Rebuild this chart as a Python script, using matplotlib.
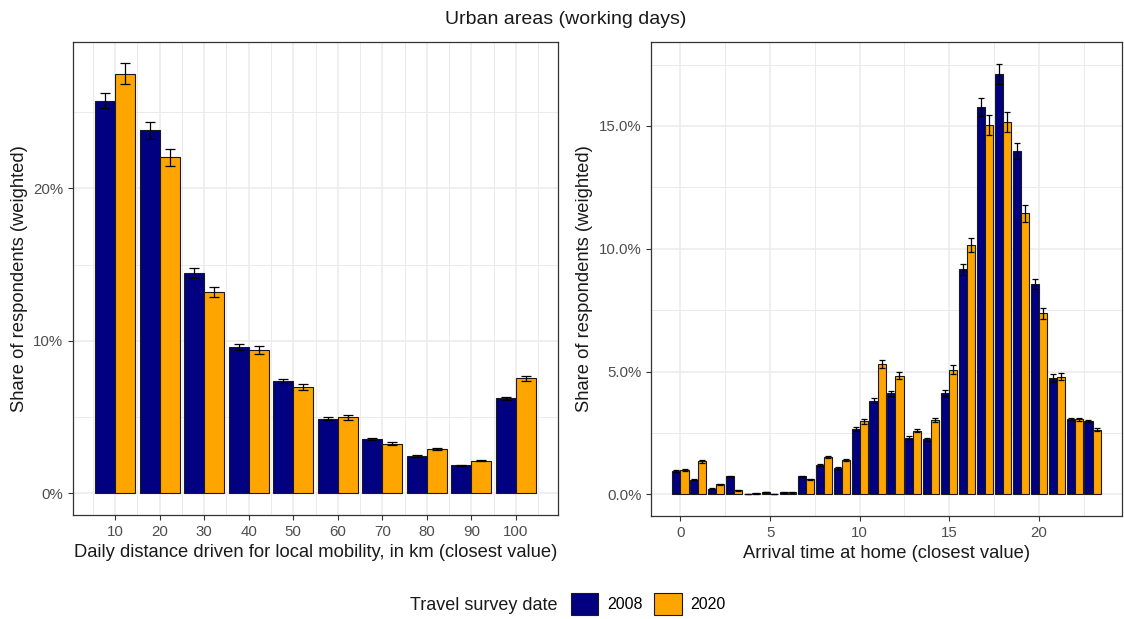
import numpy as np
import matplotlib.pyplot as plt
from matplotlib.patches import Patch
from matplotlib.ticker import FixedLocator

plt.rcParams['font.family'] = ['Liberation Sans', 'DejaVu Sans']

# Left panel: daily distance (km)
distance = [10, 20, 30, 40, 50, 60, 70, 80, 90, 100]
dist_2008 = [25.76, 23.80, 14.44, 9.62, 7.37, 4.90, 3.58, 2.47, 1.85, 6.23]
dist_2020 = [27.53, 22.05, 13.20, 9.40, 6.98, 4.99, 3.27, 2.91, 2.16, 7.55]
dist_err_2008 = [0.50, 0.55, 0.33, 0.20, 0.15, 0.10, 0.08, 0.05, 0.05, 0.12]
dist_err_2020 = [0.67, 0.55, 0.33, 0.25, 0.20, 0.15, 0.08, 0.06, 0.05, 0.15]

# Right panel: arrival time at home (hour)
hours = list(range(24))
arr_2008 = [0.95, 0.60, 0.23, 0.73, 0.02, 0.09, 0.08, 0.73, 1.18, 1.08, 2.67, 3.82,
            4.12, 2.30, 2.24, 4.13, 9.17, 15.77, 17.13, 13.98, 8.56, 4.74, 3.08, 2.97]
arr_2020 = [0.99, 1.34, 0.41, 0.16, 0.04, 0.01, 0.08, 0.61, 1.52, 1.41, 2.98, 5.31,
            4.84, 2.60, 3.04, 5.08, 10.15, 15.04, 15.16, 11.44, 7.37, 4.80, 3.05, 2.64]
arr_err_2008 = [0.04, 0.03, 0.02, 0.03, 0.01, 0.01, 0.01, 0.03, 0.04, 0.04, 0.08, 0.10,
                0.11, 0.06, 0.06, 0.14, 0.22, 0.37, 0.41, 0.32, 0.21, 0.16, 0.05, 0.04]
arr_err_2020 = [0.04, 0.05, 0.03, 0.02, 0.01, 0.01, 0.01, 0.03, 0.05, 0.05, 0.10, 0.15,
                0.15, 0.07, 0.08, 0.18, 0.30, 0.42, 0.41, 0.33, 0.22, 0.16, 0.07, 0.05]

years = ['2008', '2020']
colors = ['#000080', '#FFA500']
TEXT = '#1A1A1A'
TICK = '#4D4D4D'
GRID = '#EBEBEB'


def style_axes(ax, xmaj, xmin, ymaj, ymin, ylabels):
    ax.set_axisbelow(True)
    ax.xaxis.set_major_locator(FixedLocator(xmaj))
    ax.xaxis.set_minor_locator(FixedLocator(xmin))
    ax.yaxis.set_major_locator(FixedLocator(ymaj))
    ax.yaxis.set_minor_locator(FixedLocator(ymin))
    ax.set_yticklabels(ylabels)
    ax.grid(which='major', color=GRID, linewidth=1.1)
    ax.grid(which='minor', color=GRID, linewidth=0.7)
    ax.tick_params(which='major', length=3.5, width=0.8, color='#333333',
                   labelcolor=TICK, labelsize=10.8, pad=3.5)
    ax.tick_params(which='minor', length=0)
    for s in ax.spines.values():
        s.set_color('#333333')
        s.set_linewidth(0.9)


def draw_pairs(ax, x, v08, v20, e08, e20, width, capsize):
    x = np.array(x, dtype=float)
    for i, (vals, errs) in enumerate([(v08, e08), (v20, e20)]):
        pos = x + (i - 0.5) * width
        ax.bar(pos, vals, width=width, color=colors[i], edgecolor='#1A1A1A', linewidth=0.8)
        ax.errorbar(pos, vals, yerr=errs, fmt='none', ecolor='black',
                    elinewidth=0.9, capsize=capsize, capthick=0.9)


fig = plt.figure(figsize=(11.24, 6.19), dpi=100)
W, H = 1124, 619

ax1 = fig.add_axes([73 / W, (H - 515) / H, (558 - 73) / W, (515 - 42) / H])
draw_pairs(ax1, distance, dist_2008, dist_2020, dist_err_2008, dist_err_2020, 4.5, 3.5)
ax1.set_xlim(0.55, 109.45)
ax1.set_ylim(-1.41, 29.6)
style_axes(ax1, distance, [5 + 10 * k for k in range(11)], [0, 10, 20], [5, 15, 25],
           ['0%', '10%', '20%'])
ax1.set_xlabel('Daily distance driven for local mobility, in km (closest value)',
               fontsize=13.2, color=TEXT, labelpad=4)
ax1.set_ylabel('Share of respondents (weighted)', fontsize=13.2, color=TEXT, labelpad=4)

ax2 = fig.add_axes([651 / W, (H - 516) / H, (1122 - 651) / W, (516 - 42) / H])
draw_pairs(ax2, hours, arr_2008, arr_2020, arr_err_2008, arr_err_2020, 0.45, 2.5)
ax2.set_xlim(-1.645, 24.645)
ax2.set_ylim(-0.88, 18.42)
style_axes(ax2, [0, 5, 10, 15, 20], [2.5, 7.5, 12.5, 17.5, 22.5], [0, 5, 10, 15],
           [2.5, 7.5, 12.5, 17.5], ['0.0%', '5.0%', '10.0%', '15.0%'])
ax2.set_xlabel('Arrival time at home (closest value)', fontsize=13.2, color=TEXT, labelpad=4)
ax2.set_ylabel('Share of respondents (weighted)', fontsize=13.2, color=TEXT, labelpad=4)

fig.text(566 / W, 1 - 20 / H, 'Urban areas (working days)', ha='center', va='center',
         fontsize=14, color=TEXT)

# legend, title on the left like ggplot
fig.text(558 / W, 1 - 606 / H, 'Travel survey date', ha='right', va='center',
         fontsize=13, color=TEXT)
handles = [Patch(facecolor=c, edgecolor='#1A1A1A', linewidth=0.8) for c in colors]
fig.legend(handles, years, loc='center left', bbox_to_anchor=(571 / W, 1 - 604 / H),
           ncol=2, frameon=False, fontsize=11.5, handlelength=1.7, handleheight=1.75,
           handletextpad=0.55, columnspacing=0.75, borderpad=0, borderaxespad=0)

fig.savefig('out.png', dpi=100)
